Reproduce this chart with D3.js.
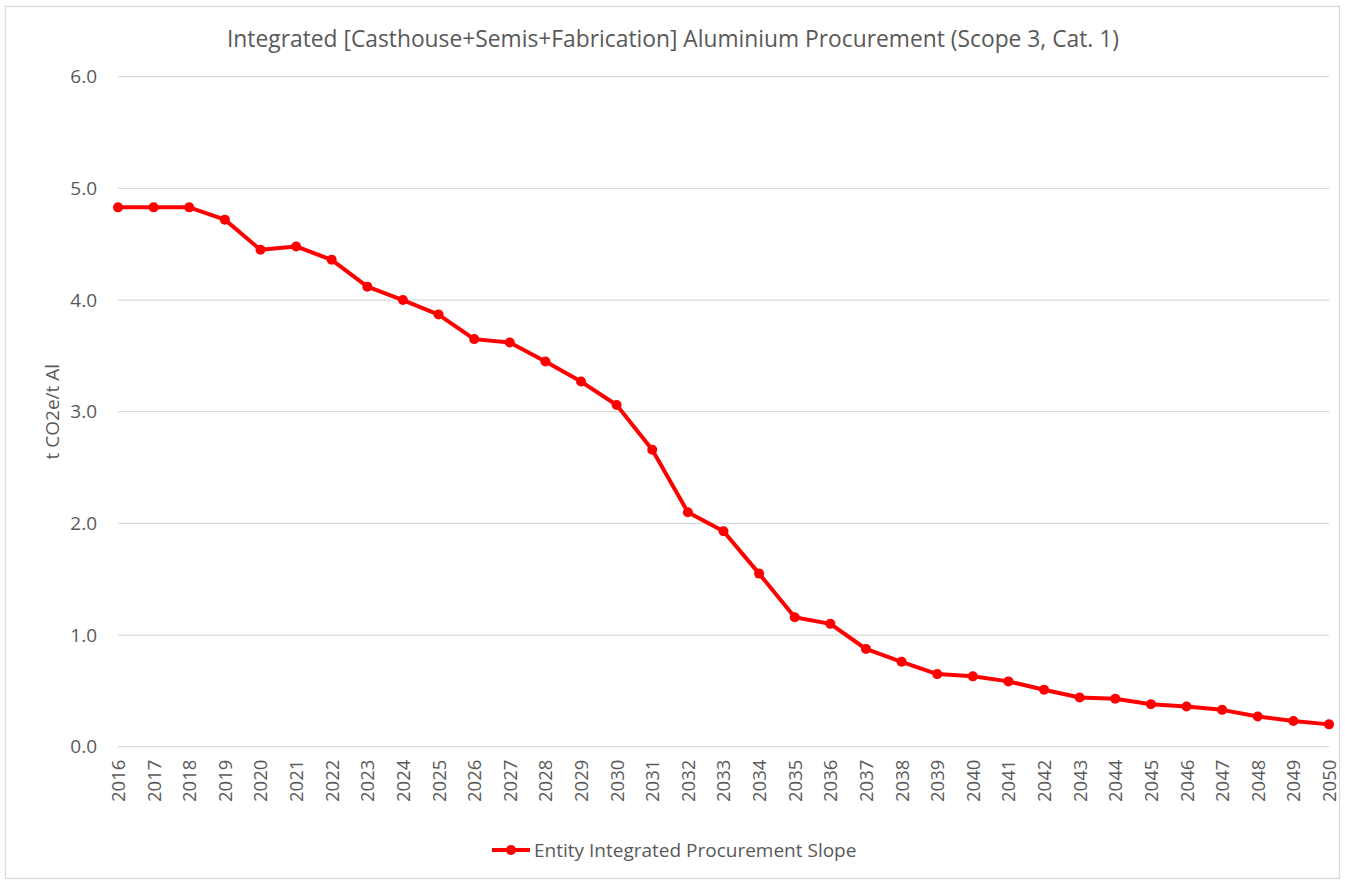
<!DOCTYPE html>
<html>
<head>
<meta charset="utf-8">
<script src="https://cdn.jsdelivr.net/npm/d3@7"></script>
<style>
  body { margin: 0; background: #fff; }
  text { font-family: "Open Sans", "Noto Sans", sans-serif; fill: #595959; }
</style>
</head>
<body>
<div id="chart"></div>
<script>
const years = d3.range(2016, 2051).map(String);
const slope = [4.83, 4.83, 4.83, 4.72, 4.45, 4.48, 4.36, 4.12, 4.00, 3.87,
               3.65, 3.62, 3.45, 3.27, 3.06, 2.66, 2.10, 1.93, 1.55, 1.16,
               1.10, 0.875, 0.76, 0.65, 0.63, 0.585, 0.51, 0.44, 0.43, 0.38,
               0.36, 0.33, 0.27, 0.23, 0.20];
const yTicks = [0, 1, 2, 3, 4, 5, 6];
const title = "Integrated [Casthouse+Semis+Fabrication] Aluminium Procurement (Scope 3, Cat. 1)";
const yTitle = "t CO2e/t Al";
const seriesName = "Entity Integrated Procurement Slope";

var width = 1345, height = 881;
var plot = {left: 118, right: 1329, top: 76.7, bottom: 746.7};

var svg = d3.select("#chart").append("svg")
  .attr("width", width)
  .attr("height", height);

// outer frame
svg.append("rect")
  .attr("x", 5.5).attr("y", 6.5)
  .attr("width", 1334).attr("height", 872)
  .attr("fill", "#fff")
  .attr("stroke", "#d9d9d9")
  .attr("stroke-width", 1.3);

var x = d3.scalePoint().domain(years).range([plot.left, plot.right]);
var y = d3.scaleLinear().domain([0, 6]).range([plot.bottom, plot.top]);

// gridlines
svg.append("g")
  .selectAll("line")
  .data(yTicks).enter()
  .append("line")
  .attr("x1", plot.left).attr("x2", plot.right)
  .attr("y1", d => y(d)).attr("y2", d => y(d))
  .attr("stroke", "#d9d9d9")
  .attr("stroke-width", 1.3);

// y axis labels
var yAxis = d3.axisLeft(y).tickValues(yTicks).tickFormat(d3.format(".1f")).tickSize(0).tickPadding(21);
svg.append("g")
  .attr("transform", `translate(${plot.left}, 0)`)
  .call(yAxis)
  .call(g => g.select(".domain").remove())
  .selectAll("text")
  .attr("font-size", 19)
  .attr("font-family", null)
  .attr("fill", "#595959");

// x axis labels, rotated
var xAxis = d3.axisBottom(x).tickSize(0);
svg.append("g")
  .attr("transform", `translate(0, ${plot.bottom})`)
  .call(xAxis)
  .call(g => g.select(".domain").remove())
  .selectAll("text")
  .attr("font-size", 18.5)
  .attr("font-family", null)
  .attr("fill", "#595959")
  .attr("text-anchor", "end")
  .attr("dy", "0.35em")
  .attr("transform", "translate(0, 13) rotate(-90)")
  .attr("x", 0).attr("y", 0);

// title
svg.append("text")
  .attr("x", 673).attr("y", 47)
  .attr("text-anchor", "middle")
  .attr("font-size", 22.8)
  .text(title);

// y axis title
svg.append("text")
  .attr("transform", `translate(59, ${(plot.top + plot.bottom) / 2}) rotate(-90)`)
  .attr("text-anchor", "middle")
  .attr("font-size", 19)
  .text(yTitle);

// series line
var line = d3.line()
  .x((d, i) => x(years[i]))
  .y(d => y(d));

svg.append("path")
  .attr("d", line(slope))
  .attr("fill", "none")
  .attr("stroke", "#ff0000")
  .attr("stroke-width", 4)
  .attr("stroke-linejoin", "round");

svg.append("g")
  .selectAll("circle")
  .data(slope).enter()
  .append("circle")
  .attr("cx", (d, i) => x(years[i]))
  .attr("cy", d => y(d))
  .attr("r", 5)
  .attr("fill", "#ff0000");

// legend
var lg = svg.append("g").attr("transform", "translate(492, 850)");
lg.append("line")
  .attr("x1", 0).attr("x2", 38)
  .attr("stroke", "#ff0000").attr("stroke-width", 4);
lg.append("circle")
  .attr("cx", 19).attr("r", 5).attr("fill", "#ff0000");
lg.append("text")
  .attr("x", 42).attr("dy", "0.35em")
  .attr("font-size", 19)
  .text(seriesName);
</script>
</body>
</html>
